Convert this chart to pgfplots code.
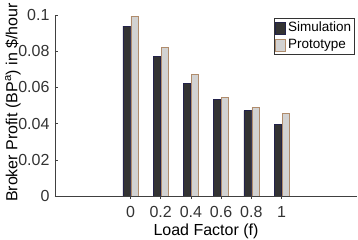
\documentclass[border=0pt]{standalone}
\usepackage{pgfplots}
\pgfplotsset{compat=1.18}
\usepackage{fontspec}
\setmainfont{Liberation Sans}
\definecolor{simfill}{HTML}{333333}
\definecolor{simedge}{HTML}{22224A}
\definecolor{profill}{HTML}{D2D2D2}
\definecolor{proedge}{HTML}{B08C6C}
\begin{document}
\fontsize{16bp}{19bp}\selectfont
\begin{tikzpicture}[x=1bp,y=1bp]
\begin{axis}[
  at={(0,0)}, anchor=south west,
  scale only axis,
  width=302bp, height=181bp,
  xmin=-0.5, xmax=1.5, ymin=0, ymax=0.1,
  axis x line*=bottom, axis y line*=left,
  axis line style={-, black!75, line width=0.6pt},
  tick style={black!75, line width=0.6pt},
  tick align=inside, major tick length=3bp,
  xtick={0,0.2,0.4,0.6,0.8,1},
  xticklabels={0,0.2,0.4,0.6,0.8,1},
  ytick={0,0.02,0.04,0.06,0.08,0.1},
  yticklabels={0,0.02,0.04,0.06,0.08,0.1},
  scaled y ticks=false,
  /pgf/number format/assume math mode=true,
  tick label style={font=\fontsize{16bp}{19bp}\selectfont, text=black!80},
  xlabel={Load Factor (f)},
  ylabel={Broker Profit (BP\textsuperscript{a}) in \$/hour},
  label style={font=\fontsize{16bp}{19bp}\selectfont, text=black!80},
  every axis y label/.style={at={(axis description cs:0,0.5)}, xshift=-42bp, yshift=3bp, rotate=90, anchor=center},
  every axis x label/.style={at={(axis description cs:0.5,0)}, yshift=-35bp, anchor=center},
  xticklabel style={yshift=-2bp},
  ybar, bar width=7bp,
  legend style={at={(rel axis cs:0.993,0.983)}, anchor=north east,
    font=\fontsize{13.5bp}{15bp}\selectfont, draw=black!80, line width=0.6pt,
    inner xsep=1.5bp, inner ysep=1.5bp, row sep=1bp, cells={anchor=west}},
  legend image code/.code={\draw[#1] (-1bp,-6bp) rectangle (9bp,6bp);},
]
\addplot[fill=simfill, draw=simedge, bar shift=-4bp] coordinates {
  (0,0.0939) (0.2,0.0772) (0.4,0.0622) (0.6,0.0533) (0.8,0.0472) (1,0.0394)};
\addplot[fill=profill, draw=proedge, bar shift=4bp] coordinates {
  (0,0.0994) (0.2,0.0820) (0.4,0.0672) (0.6,0.0544) (0.8,0.0489) (1,0.0456)};
\legend{Simulation, Prototype}
\end{axis}
\pgfresetboundingbox
\path (-55bp,-44bp) rectangle (303bp,196bp);
\end{tikzpicture}
\end{document}
